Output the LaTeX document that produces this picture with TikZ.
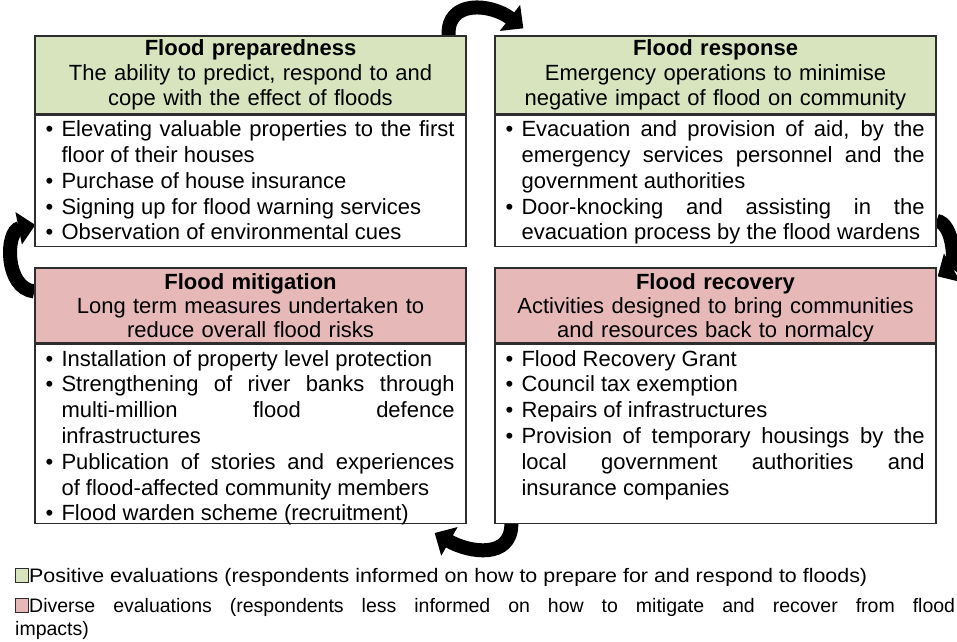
\documentclass[tikz,border=0pt]{standalone}
\usepackage{fontspec}
\setmainfont{Liberation Sans}
\usepackage{graphicx}
\usetikzlibrary{arrows.meta,calc}
\pgfdeclarelayer{bg}
\pgfsetlayers{bg,main}
\definecolor{hgreen}{RGB}{215,228,189}
\definecolor{hpink}{RGB}{230,185,184}
\definecolor{edgegray}{RGB}{45,45,45}
\newcommand{\nsp}{\spaceskip=0pt\xspaceskip=0pt\relax}
\newcommand{\bl}{\makebox[16pt][l]{\textbullet}}
\newcommand{\ind}{\hspace*{16pt}}
\newcommand{\jl}[2]{{\nsp\makebox[#1][s]{#2}}}
\begin{document}
\begin{tikzpicture}[x=1pt,y=-1pt,
  boxfont/.style={font=\fontsize{22}{25.8}\selectfont},
  hdr/.style={draw=edgegray, line width=1.3pt, inner sep=0pt},
  hdrtext/.style={anchor=base, inner sep=0pt, text width=425pt, align=center},
  bodybox/.style={draw=edgegray, line width=1.3pt, fill=white, inner sep=0pt},
  bodytext/.style={anchor=base west, inner sep=0pt, text width=425pt, align=left, boxfont},
  cyc/.style={line width=14pt, black, -{Triangle[length=17pt,width=32pt]}},
  legsq/.style={draw=edgegray, line width=1pt, minimum width=13pt, minimum height=14pt, inner sep=0pt},
  legtext/.style={anchor=base west, inner sep=0pt, font=\fontsize{19.5}{23}\selectfont}
]
\useasboundingbox (0,0) rectangle (957,641);

% headers
\node[hdr, fill=hgreen, minimum width=431pt, minimum height=78pt] (tlh) at (250.5,75) {};
\node[hdr, fill=hgreen, minimum width=441pt, minimum height=78pt] (trh) at (715.5,75) {};
\node[hdr, fill=hpink, minimum width=431pt, minimum height=75pt] (blh) at (250.5,305.5) {};
\node[hdr, fill=hpink, minimum width=441pt, minimum height=75pt] (brh) at (715.5,305.5) {};

\node[hdrtext, font=\fontsize{22}{25}\selectfont] (tlht) at ($(tlh.north)+(0,20)$)
  {\textbf{Flood preparedness}\\The ability to predict, respond to and\\cope with the effect of floods};
\node[hdrtext, font=\fontsize{22}{25}\selectfont] (trht) at ($(trh.north)+(0,20)$)
  {\textbf{Flood response}\\Emergency operations to minimise\\negative impact of flood on community};
\node[hdrtext, font=\fontsize{22}{24}\selectfont] (blht) at ($(blh.north)+(0,22)$)
  {\textbf{Flood mitigation}\\Long term measures undertaken to\\reduce overall flood risks};
\node[hdrtext, font=\fontsize{22}{24}\selectfont] (brht) at ($(brh.north)+(0,22)$)
  {\textbf{Flood recovery}\\Activities designed to bring communities\\and resources back to normalcy};

% bodies
\node[bodybox, minimum width=431pt, minimum height=131pt, anchor=north] (tlb) at (tlh.south) {};
\node[bodybox, minimum width=441pt, minimum height=131pt, anchor=north] (trb) at (trh.south) {};
\node[bodybox, minimum width=431pt, minimum height=179pt, anchor=north] (blb) at (blh.south) {};
\node[bodybox, minimum width=441pt, minimum height=179pt, anchor=north] (brb) at (brh.south) {};

\node[bodytext] (tlt) at ($(tlb.north west)+(11,22)$) {\nsp
\bl\jl{393pt}{Elevating valuable properties to the first}\\
\ind floor of their houses\\
\bl Purchase of house insurance\\
\bl Signing up for flood warning services\\
\bl Observation of environmental cues};

\node[bodytext] (trt) at ($(trb.north west)+(11,22)$) {\nsp
\bl\jl{403pt}{Evacuation and provision of aid, by the}\\
\ind\jl{403pt}{emergency services personnel and the}\\
\ind government authorities\\
\bl\jl{403pt}{Door-knocking and assisting in the}\\
\ind evacuation process by the flood wardens};

\node[bodytext] (blt) at ($(blb.north west)+(11,22.5)$) {\nsp
\bl Installation of property level protection\\
\bl\jl{393pt}{Strengthening of river banks through}\\
\ind\jl{393pt}{multi-million flood defence}\\
\ind infrastructures\\
\bl\jl{393pt}{Publication of stories and experiences}\\
\ind of flood-affected community members\\
\bl Flood warden scheme (recruitment)};

\node[bodytext] (brt) at ($(brb.north west)+(11,22.5)$) {\nsp
\bl Flood Recovery Grant\\
\bl Council tax exemption\\
\bl Repairs of infrastructures\\
\bl\jl{403pt}{Provision of temporary housings by the}\\
\ind\jl{403pt}{local government authorities and}\\
\ind insurance companies};

% cycle arrows
\begin{pgfonlayer}{bg}
\draw[cyc] ($(tlh.north east)+(-18,0)$) .. controls +(-2,-36) and +(-32,-25) .. ($(trh.north west)+(29,-7)$);
\draw[cyc] ($(trb.east)+(0,40)$) .. controls +(18,3) and +(17,-10) .. ($(brh.north east)+(1,9)$);
\draw[cyc] ($(brb.south west)+(17,0)$) .. controls +(0,35) and +(35,20) .. ($(blb.south east)+(-32,9)$);
\draw[cyc] ($(blh.west)+(0,-14)$) .. controls +(-30,-3) and +(-30,6) .. ($(tlb.south west)+(1,-22)$);
\end{pgfonlayer}

% legend
\node[legsq, fill=hgreen] (lg1) at (21.5,575) {};
\node[legtext] (lt1) at (29,582) {\resizebox{838pt}{\height}{Positive evaluations (respondents informed on how to prepare for and respond to floods)}};
\node[legsq, fill=hpink] (lg2) at (21.5,605) {};
\node[legtext] (lt2) at (29,612) {\jl{926pt}{Diverse evaluations (respondents less informed on how to mitigate and recover from flood}};
\node[legtext] (lt3) at (15,635) {impacts)};
\end{tikzpicture}
\end{document}
